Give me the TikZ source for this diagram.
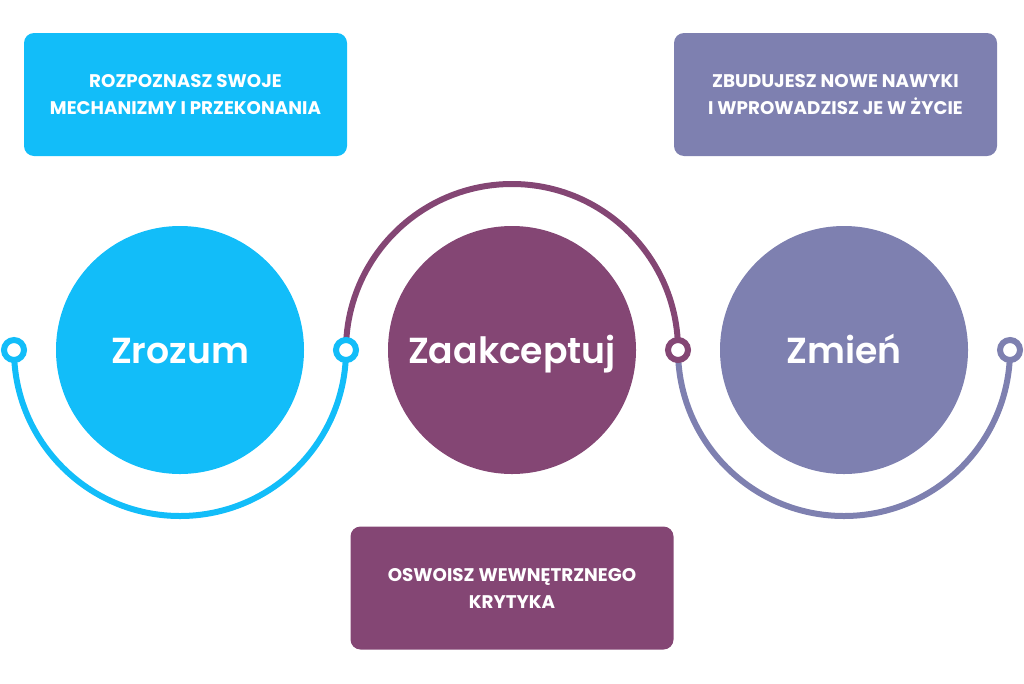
\documentclass[tikz,border=0pt]{standalone}
\usepackage{fontspec}
\setmainfont{Poppins}
\IfFontExistsTF{Poppins SemiBold}{\newfontfamily\circfont{Poppins SemiBold}}{\newfontfamily\circfont{Poppins}[UprightFont=*-Bold]}
\definecolor{cblue}{HTML}{12BDF9}
\definecolor{cpurple}{HTML}{844674}
\definecolor{cgray}{HTML}{7E80B0}
\begin{document}
\begin{tikzpicture}[x=1pt,y=-1pt,
  bigcirc/.style={circle, minimum size=248pt, inner sep=0pt, text=white,
    text height=26pt, text depth=0pt, font=\circfont\fontsize{36.2}{40}\selectfont},
  infobox/.style={rounded corners=10pt, minimum width=323pt, minimum height=123pt,
    inner sep=0pt, text=white, align=center, font=\bfseries\fontsize{18.3}{27}\selectfont},
  ring/.style={circle, draw, fill=white, line width=6pt, minimum size=20pt, inner sep=0pt},
  arcline/.style={line width=6pt}]
\useasboundingbox (0,0) rectangle (1024,683);
% boxes
\node[infobox, fill=cblue] (b1) at (185.5,94.5) {ROZPOZNASZ SWOJE\\MECHANIZMY I PRZEKONANIA};
\node[infobox, fill=cgray] (b3) at (835.5,94.5) {ZBUDUJESZ NOWE NAWYKI\\I WPROWADZISZ JE W ŻYCIE};
\node[infobox, fill=cpurple] (b2) at (512,588) {OSWOISZ WEWNĘTRZNEGO\\KRYTYKA};
% circles
\node[bigcirc, fill=cblue] (c1) at (180,350) {Zrozum};
\node[bigcirc, fill=cpurple] (c2) at (512,350) {Zaakceptuj};
\node[bigcirc, fill=cgray] (c3) at (844,350) {Zmień};
% ring anchor coordinates
\coordinate (p1) at (14,350);
\coordinate (p2) at (346,350);
\coordinate (p3) at (678,350);
\coordinate (p4) at (1010,350);
% arcs
\draw[arcline, cblue] (p1) arc[start angle=180, end angle=0, radius=166];
\draw[arcline, cpurple] (p2) arc[start angle=180, end angle=360, radius=166];
\draw[arcline, cgray] (p3) arc[start angle=180, end angle=0, radius=166];
% rings
\node[ring, draw=cblue] (r1) at (p1) {};
\node[ring, draw=cblue] (r2) at (p2) {};
\node[ring, draw=cpurple] (r3) at (p3) {};
\node[ring, draw=cgray] (r4) at (p4) {};
\end{tikzpicture}
\end{document}
